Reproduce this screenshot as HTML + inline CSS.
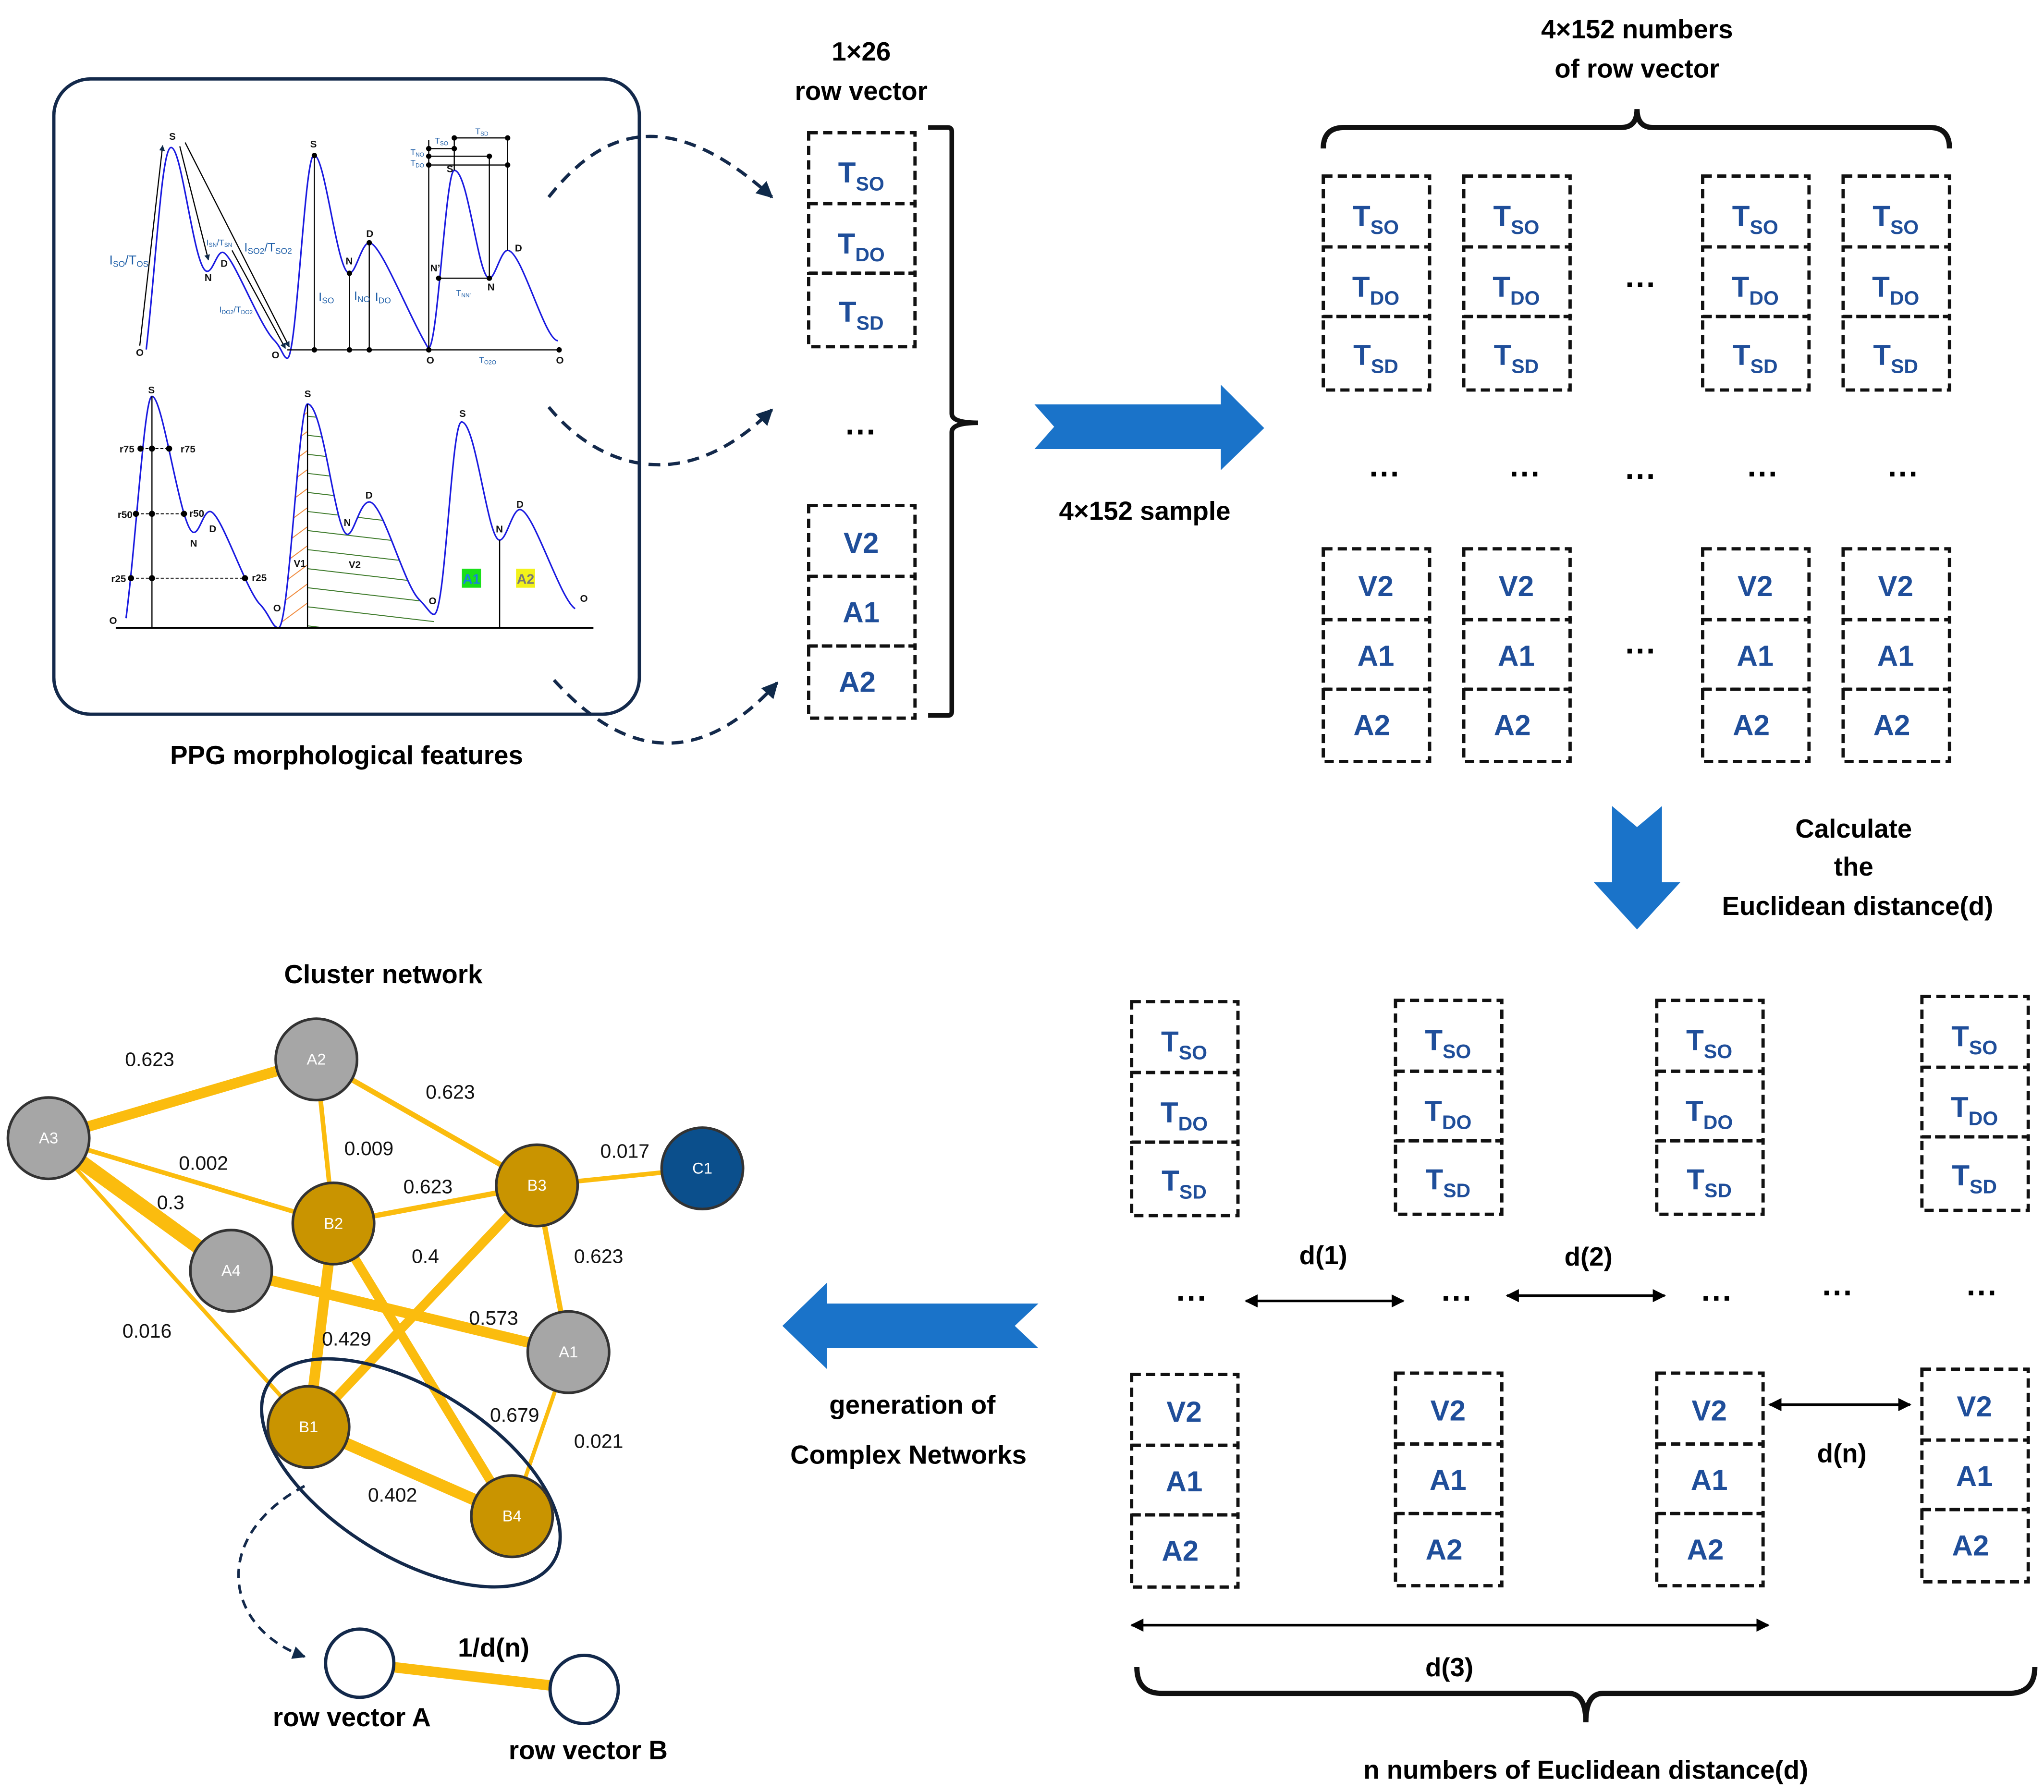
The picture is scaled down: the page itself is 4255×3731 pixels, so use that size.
<!DOCTYPE html>
<html><head><meta charset="utf-8"><style>
html,body{margin:0;padding:0;background:#fff}
svg{display:block}
text{font-family:"Liberation Sans",sans-serif}
.b{font-weight:bold}
.col rect{fill:none;stroke:#111;stroke-width:2.5;stroke-dasharray:7,4}
.col text{font-weight:bold;font-size:22px;fill:#1f4e9a;text-anchor:middle}
.e{stroke:#fbbc0e;stroke-linecap:round}
.el{font-size:15px;fill:#111}
.nl{font-size:12px;fill:#fff;text-anchor:middle}
.pl text{font-size:26px;font-weight:bold;fill:#111}
.pb text{fill:#1f5fa8}
</style></head><body>
<svg xmlns="http://www.w3.org/2000/svg" width="4255" height="3731" viewBox="0 0 1557 1365">
<defs>
<marker id="ah" viewBox="0 0 10 10" refX="9" refY="5" markerWidth="5" markerHeight="5" orient="auto"><path d="M0,0 L10,5 L0,10 z" fill="#0f2a4a"/></marker>
<marker id="ak" viewBox="0 0 10 10" refX="9" refY="5" markerWidth="5" markerHeight="5" orient="auto-start-reverse"><path d="M0,0 L10,5 L0,10 z" fill="#000"/></marker>
<g id="colg" class="col">
<rect x="0" y="0" width="81" height="54"/><rect x="0" y="54" width="81" height="53"/><rect x="0" y="107" width="81" height="56"/>
<rect x="0" y="284" width="81" height="54"/><rect x="0" y="338" width="81" height="53"/><rect x="0" y="391" width="81" height="55"/>
</g>
<clipPath id="hc"><path d="M592,1445 C620,1445 645,858 668,858 C710,858 740,1200 773,1200 C790,1200 805,1115 830,1115 C865,1115 920,1330 960,1370 C985,1395 990,1410 1000,1410 L1000,1445 Z"/></clipPath>
</defs>
<rect width="1557" height="1365" fill="#fff"/>

<!-- PPG box -->
<rect x="41" y="60" width="446" height="484" rx="28" fill="none" stroke="#13294b" stroke-width="2.5"/>
<g transform="translate(40.25,58.5) scale(0.2904)">
<path d="M245,715 C270,500 285,185 310,185 C340,185 370,510 405,510 C420,510 430,460 445,460 C470,460 540,650 580,690 C600,710 605,738 615,738 C640,738 660,205 685,205 C715,205 745,515 778,515 C795,515 810,435 830,435 C860,435 930,620 985,712 C1010,712 1030,245 1053,245 C1090,245 1115,528 1145,528 C1160,528 1175,455 1193,455 C1230,455 1290,692 1325,692" fill="none" stroke="#1a1ae0" stroke-width="4"/>
<g stroke="#000" stroke-width="3" fill="none">
<line x1="228" y1="705" x2="288" y2="180" marker-end="url(#ah)"/>
<line x1="333" y1="182" x2="408" y2="480" marker-end="url(#ah)"/>
<line x1="347" y1="172" x2="620" y2="708" marker-end="url(#ah)"/>
<line x1="470" y1="455" x2="610" y2="712" marker-end="url(#ah)"/>
<line x1="615" y1="716" x2="1328" y2="716"/>
<line x1="686" y1="206" x2="686" y2="716"/><line x1="778" y1="515" x2="778" y2="716"/><line x1="830" y1="435" x2="830" y2="716"/>
<line x1="986" y1="165" x2="986" y2="716"/>
<line x1="986" y1="188" x2="1053" y2="188"/><line x1="1053" y1="160" x2="1193" y2="160"/>
<line x1="986" y1="208" x2="1145" y2="208"/><line x1="986" y1="231" x2="1193" y2="231"/>
<line x1="1053" y1="160" x2="1053" y2="245"/><line x1="1145" y1="208" x2="1145" y2="528"/><line x1="1193" y1="160" x2="1193" y2="455"/>
<line x1="1012" y1="528" x2="1145" y2="528"/>
</g>
<g fill="#000">
<circle cx="686" cy="206" r="7"/><circle cx="686" cy="716" r="7"/><circle cx="778" cy="515" r="7"/><circle cx="778" cy="716" r="7"/><circle cx="830" cy="435" r="7"/><circle cx="830" cy="716" r="7"/><circle cx="986" cy="716" r="7"/><circle cx="1328" cy="716" r="7"/>
<circle cx="986" cy="188" r="7"/><circle cx="1053" cy="188" r="7"/><circle cx="1053" cy="160" r="7"/><circle cx="1193" cy="160" r="7"/><circle cx="986" cy="208" r="7"/><circle cx="1145" cy="208" r="7"/><circle cx="986" cy="231" r="7"/><circle cx="1193" cy="231" r="7"/><circle cx="1012" cy="528" r="7"/><circle cx="1145" cy="528" r="7"/>
</g>
<g class="pl">
<text x="305" y="165">S</text><text x="398" y="535">N</text><text x="440" y="498">D</text><text x="218" y="732">O</text><text x="574" y="738">O</text>
<text x="675" y="185">S</text><text x="768" y="492">N</text><text x="822" y="420">D</text><text x="980" y="752">O</text><text x="1320" y="752">O</text>
<text x="1033" y="250">S</text><text x="990" y="510">N’</text><text x="1140" y="560">N</text><text x="1212" y="458">D</text>
</g>
<g class="pb">
<text x="148" y="492" font-size="34">I<tspan font-size="22" dy="6">SO</tspan><tspan dy="-6">/T</tspan><tspan font-size="22" dy="6">OS</tspan></text>
<text x="403" y="442" font-size="22">I<tspan font-size="15" dy="4">SN</tspan><tspan dy="-4">/T</tspan><tspan font-size="15" dy="4">SN</tspan></text>
<text x="502" y="458" font-size="32">I<tspan font-size="22" dy="6">SO2</tspan><tspan dy="-6">/T</tspan><tspan font-size="22" dy="6">SO2</tspan></text>
<text x="437" y="618" font-size="22">I<tspan font-size="15" dy="4">DO2</tspan><tspan dy="-4">/T</tspan><tspan font-size="15" dy="4">DO2</tspan></text>
<text x="697" y="588" font-size="32">I<tspan font-size="22" dy="6">SO</tspan></text>
<text x="790" y="585" font-size="32">I<tspan font-size="22" dy="6">NO</tspan></text>
<text x="845" y="588" font-size="32">I<tspan font-size="22" dy="6">DO</tspan></text>
<text x="1118" y="750" font-size="22">T<tspan font-size="15" dy="4">O2O</tspan></text>
<text x="1058" y="574" font-size="22">T<tspan font-size="15" dy="4">NN’</tspan></text>
<text x="1002" y="175" font-size="22">T<tspan font-size="15" dy="4">SO</tspan></text>
<text x="1108" y="150" font-size="22">T<tspan font-size="15" dy="4">SD</tspan></text>
<text x="938" y="205" font-size="22">T<tspan font-size="15" dy="4">NO</tspan></text>
<text x="938" y="233" font-size="22">T<tspan font-size="15" dy="4">DO</tspan></text>
</g>
<!-- bottom plot -->
<g clip-path="url(#hc)" stroke-width="2.5">
<g stroke="#f08a3c"><path d="M560,1460 L668,1380 M560,1410 L668,1330 M560,1360 L668,1280 M560,1310 L668,1230 M560,1260 L668,1180 M560,1210 L668,1130 M560,1160 L668,1080 M560,1110 L668,1030 M560,1060 L668,980 M560,1010 L668,930 M560,960 L668,880"/></g>
<g stroke="#3d7a2a"><path d="M668,1440 L1010,1480 M668,1390 L1010,1430 M668,1340 L1010,1380 M668,1290 L1010,1330 M668,1240 L1010,1280 M668,1190 L1010,1230 M668,1140 L1010,1180 M668,1090 L1010,1130 M668,1040 L1010,1080 M668,990 L1010,1030 M668,940 L1010,980 M668,890 L1010,930 M668,840 L1010,880"/></g>
</g>
<path d="M192,1420 C220,1200 240,838 260,838 C290,838 335,1195 370,1195 C385,1195 395,1140 412,1140 C440,1140 500,1330 540,1380 C570,1410 575,1445 592,1445 C620,1445 645,858 668,858 C710,858 740,1200 773,1200 C790,1200 805,1115 830,1115 C865,1115 920,1330 960,1370 C985,1395 990,1410 1000,1410 C1030,1410 1045,905 1072,905 C1110,905 1140,1215 1172,1215 C1190,1215 1205,1135 1225,1135 C1260,1135 1330,1370 1370,1395" fill="none" stroke="#1a1ae0" stroke-width="4"/>
<g stroke="#000" fill="none">
<line x1="165" y1="1445" x2="1418" y2="1445" stroke-width="5"/>
<line x1="260" y1="838" x2="260" y2="1445" stroke-width="3"/>
<line x1="668" y1="858" x2="668" y2="1445" stroke-width="3"/>
<line x1="1172" y1="1215" x2="1172" y2="1445" stroke-width="3"/>
<g stroke-width="2.5" stroke-dasharray="8,5"><line x1="230" y1="975" x2="305" y2="975"/><line x1="218" y1="1146" x2="344" y2="1146"/><line x1="205" y1="1315" x2="504" y2="1315"/></g>
</g>
<g fill="#000"><circle cx="230" cy="975" r="8"/><circle cx="260" cy="975" r="8"/><circle cx="305" cy="975" r="8"/><circle cx="218" cy="1146" r="8"/><circle cx="260" cy="1146" r="8"/><circle cx="344" cy="1146" r="8"/><circle cx="205" cy="1315" r="8"/><circle cx="260" cy="1315" r="8"/><circle cx="504" cy="1315" r="8"/></g>
<g class="pl">
<text x="250" y="830">S</text><text x="660" y="840">S</text><text x="1066" y="892">S</text>
<text x="360" y="1232">N</text><text x="410" y="1194">D</text><text x="763" y="1178">N</text><text x="820" y="1106">D</text><text x="1162" y="1195">N</text><text x="1216" y="1130">D</text>
<text x="148" y="1435">O</text><text x="578" y="1402">O</text><text x="986" y="1383">O</text><text x="1383" y="1377">O</text>
<text x="175" y="985" font-size="20">r75</text><text x="335" y="985" font-size="20">r75</text>
<text x="170" y="1157" font-size="20">r50</text><text x="358" y="1154" font-size="20">r50</text>
<text x="153" y="1325" font-size="20">r25</text><text x="522" y="1323" font-size="20">r25</text>
<text x="632" y="1285">V1</text><text x="776" y="1288">V2</text>
</g>
<rect x="1073" y="1290" width="50" height="50" fill="#19e019"/><text x="1098" y="1330" text-anchor="middle" font-size="36" font-weight="bold" fill="#1a7fe0">A1</text>
<rect x="1215" y="1290" width="50" height="50" fill="#f2f21a"/><text x="1240" y="1330" text-anchor="middle" font-size="36" font-weight="bold" fill="#777">A2</text>
</g>
<text x="264" y="582" text-anchor="middle" class="b" font-size="20">PPG morphological features</text>

<!-- dashed arrows -->
<g fill="none" stroke="#13294b" stroke-width="2.5" stroke-dasharray="9,6">
<path d="M418,150 C450,110 500,70 588,150" marker-end="url(#ah)"/>
<path d="M418,310 C455,355 520,380 588,312" marker-end="url(#ah)"/>
<path d="M422,518 C460,560 520,600 592,520" marker-end="url(#ah)"/>
</g>

<!-- left column -->
<text x="656" y="46" text-anchor="middle" class="b" font-size="20">1×26</text>
<text x="656" y="76" text-anchor="middle" class="b" font-size="20">row vector</text>
<g transform="translate(616,101)">
<use href="#colg"/>
<g class="col"><text x="40" y="38">T<tspan font-size="15" dy="6">SO</tspan></text><text x="40" y="92">T<tspan font-size="15" dy="6">DO</tspan></text><text x="40" y="144">T<tspan font-size="15" dy="6">SD</tspan></text><text x="40" y="320">V2</text><text x="40" y="373">A1</text><text x="37" y="426">A2</text></g>
</g>
<text x="656" y="337" text-anchor="middle" class="b" font-size="24">···</text>
<path d="M707,97 L722,97 Q725,97 725,100 L725,315 Q725,322 745,322 Q725,322 725,329 L725,542 Q725,545 722,545 L707,545" fill="none" stroke="#111" stroke-width="3.5"/>

<!-- big right arrow -->
<polygon points="788,308 930,308 930,293 963,326 930,358 930,342 788,342 803,325" fill="#1a73c9"/>
<text x="872" y="396" text-anchor="middle" class="b" font-size="20">4×152 sample</text>

<!-- top right -->
<text x="1247" y="29" text-anchor="middle" class="b" font-size="20">4×152 numbers</text>
<text x="1247" y="59" text-anchor="middle" class="b" font-size="20">of row vector</text>
<path d="M1008,113 Q1008,97 1024,97 L1235,97 Q1247,97 1247,83 Q1247,97 1259,97 L1470,97 Q1485,97 1485,113" fill="none" stroke="#111" stroke-width="4"/>
<g transform="translate(1008,134)"><use href="#colg"/><g class="col"><text x="40" y="38">T<tspan font-size="15" dy="6">SO</tspan></text><text x="40" y="92">T<tspan font-size="15" dy="6">DO</tspan></text><text x="40" y="144">T<tspan font-size="15" dy="6">SD</tspan></text><text x="40" y="320">V2</text><text x="40" y="373">A1</text><text x="37" y="426">A2</text></g></g>
<g transform="translate(1115,134)"><use href="#colg"/><g class="col"><text x="40" y="38">T<tspan font-size="15" dy="6">SO</tspan></text><text x="40" y="92">T<tspan font-size="15" dy="6">DO</tspan></text><text x="40" y="144">T<tspan font-size="15" dy="6">SD</tspan></text><text x="40" y="320">V2</text><text x="40" y="373">A1</text><text x="37" y="426">A2</text></g></g>
<g transform="translate(1297,134)"><use href="#colg"/><g class="col"><text x="40" y="38">T<tspan font-size="15" dy="6">SO</tspan></text><text x="40" y="92">T<tspan font-size="15" dy="6">DO</tspan></text><text x="40" y="144">T<tspan font-size="15" dy="6">SD</tspan></text><text x="40" y="320">V2</text><text x="40" y="373">A1</text><text x="37" y="426">A2</text></g></g>
<g transform="translate(1404,134)"><use href="#colg"/><g class="col"><text x="40" y="38">T<tspan font-size="15" dy="6">SO</tspan></text><text x="40" y="92">T<tspan font-size="15" dy="6">DO</tspan></text><text x="40" y="144">T<tspan font-size="15" dy="6">SD</tspan></text><text x="40" y="320">V2</text><text x="40" y="373">A1</text><text x="37" y="426">A2</text></g></g>
<g class="b" font-size="24" text-anchor="middle">
<text x="1250" y="225">···</text><text x="1250" y="504">···</text>
<text x="1055" y="369">···</text><text x="1162" y="369">···</text><text x="1250" y="371">···</text><text x="1343" y="369">···</text><text x="1450" y="369">···</text>
</g>

<!-- down arrow -->
<polygon points="1228,614 1247,630 1266,614 1266,672 1280,672 1247,708 1214,672 1228,672" fill="#1a73c9"/>
<g class="b" font-size="20" text-anchor="middle"><text x="1412" y="638">Calculate</text><text x="1412" y="667">the</text><text x="1415" y="697">Euclidean distance(d)</text></g>

<!-- bottom right -->
<g transform="translate(862,763)"><use href="#colg"/><g class="col"><text x="40" y="38">T<tspan font-size="15" dy="6">SO</tspan></text><text x="40" y="92">T<tspan font-size="15" dy="6">DO</tspan></text><text x="40" y="144">T<tspan font-size="15" dy="6">SD</tspan></text><text x="40" y="320">V2</text><text x="40" y="373">A1</text><text x="37" y="426">A2</text></g></g>
<g transform="translate(1063,762)"><use href="#colg"/><g class="col"><text x="40" y="38">T<tspan font-size="15" dy="6">SO</tspan></text><text x="40" y="92">T<tspan font-size="15" dy="6">DO</tspan></text><text x="40" y="144">T<tspan font-size="15" dy="6">SD</tspan></text><text x="40" y="320">V2</text><text x="40" y="373">A1</text><text x="37" y="426">A2</text></g></g>
<g transform="translate(1262,762)"><use href="#colg"/><g class="col"><text x="40" y="38">T<tspan font-size="15" dy="6">SO</tspan></text><text x="40" y="92">T<tspan font-size="15" dy="6">DO</tspan></text><text x="40" y="144">T<tspan font-size="15" dy="6">SD</tspan></text><text x="40" y="320">V2</text><text x="40" y="373">A1</text><text x="37" y="426">A2</text></g></g>
<g transform="translate(1464,759)"><use href="#colg"/><g class="col"><text x="40" y="38">T<tspan font-size="15" dy="6">SO</tspan></text><text x="40" y="92">T<tspan font-size="15" dy="6">DO</tspan></text><text x="40" y="144">T<tspan font-size="15" dy="6">SD</tspan></text><text x="40" y="320">V2</text><text x="40" y="373">A1</text><text x="37" y="426">A2</text></g></g>
<g class="b" font-size="24" text-anchor="middle">
<text x="908" y="997">···</text><text x="1110" y="997">···</text><text x="1308" y="997">···</text><text x="1400" y="993">···</text><text x="1510" y="993">···</text>
</g>
<g stroke="#000" stroke-width="2" marker-start="url(#ak)" marker-end="url(#ak)">
<line x1="949" y1="991" x2="1069" y2="991"/>
<line x1="1148" y1="987" x2="1268" y2="987"/>
<line x1="1348" y1="1070" x2="1455" y2="1070"/>
<line x1="862" y1="1238" x2="1347" y2="1238"/>
</g>
<g class="b" font-size="20" text-anchor="middle">
<text x="1008" y="963">d(1)</text><text x="1210" y="964">d(2)</text><text x="1403" y="1114">d(n)</text><text x="1104" y="1277">d(3)</text>
<text x="1208" y="1355">n numbers of Euclidean distance(d)</text>
</g>
<path d="M866,1270 Q866,1290 885,1290 L1195,1290 Q1208,1290 1208,1312 Q1208,1290 1221,1290 L1530,1290 Q1550,1290 1550,1270" fill="none" stroke="#111" stroke-width="4"/>

<!-- left arrow -->
<polygon points="596,1010 630,977 630,993 791,993 773,1010 791,1027 630,1027 630,1043" fill="#1a73c9"/>
<g class="b" font-size="20" text-anchor="middle"><text x="695" y="1077">generation of</text><text x="692" y="1115">Complex Networks</text></g>

<!-- cluster network -->
<text x="292" y="749" text-anchor="middle" class="b" font-size="20">Cluster network</text>
<g class="e">
<line x1="37" y1="867" x2="241" y2="807" stroke-width="8"/>
<line x1="241" y1="807" x2="409" y2="903" stroke-width="4"/>
<line x1="241" y1="807" x2="254" y2="932" stroke-width="3.5"/>
<line x1="37" y1="867" x2="254" y2="932" stroke-width="3.5"/>
<line x1="37" y1="867" x2="176" y2="968" stroke-width="11"/>
<line x1="37" y1="867" x2="235" y2="1087" stroke-width="3"/>
<line x1="176" y1="968" x2="433" y2="1030" stroke-width="8"/>
<line x1="409" y1="903" x2="535" y2="890" stroke-width="3.5"/>
<line x1="409" y1="903" x2="433" y2="1030" stroke-width="4"/>
<line x1="254" y1="932" x2="409" y2="903" stroke-width="4"/>
<line x1="254" y1="932" x2="235" y2="1087" stroke-width="8"/>
<line x1="254" y1="932" x2="390" y2="1155" stroke-width="7"/>
<line x1="409" y1="903" x2="235" y2="1087" stroke-width="7"/>
<line x1="235" y1="1087" x2="390" y2="1155" stroke-width="9"/>
<line x1="433" y1="1030" x2="390" y2="1155" stroke-width="3"/>
</g>
<ellipse cx="313" cy="1122" rx="128" ry="64" transform="rotate(32 313 1122)" fill="none" stroke="#13294b" stroke-width="2.5"/>
<g stroke="#333" stroke-width="2">
<circle cx="241" cy="807" r="31" fill="#a6a6a6"/><circle cx="37" cy="867" r="31" fill="#a6a6a6"/><circle cx="176" cy="968" r="31" fill="#a6a6a6"/><circle cx="433" cy="1030" r="31" fill="#a6a6a6"/>
<circle cx="409" cy="903" r="31" fill="#c99400"/><circle cx="254" cy="932" r="31" fill="#c99400"/><circle cx="235" cy="1087" r="31" fill="#c99400"/><circle cx="390" cy="1155" r="31" fill="#c99400"/>
<circle cx="535" cy="890" r="31" fill="#0b4f8c"/>
</g>
<g class="nl"><text x="241" y="811">A2</text><text x="37" y="871">A3</text><text x="176" y="972">A4</text><text x="433" y="1034">A1</text><text x="409" y="907">B3</text><text x="254" y="936">B2</text><text x="235" y="1091">B1</text><text x="390" y="1159">B4</text><text x="535" y="894">C1</text></g>
<g class="el" text-anchor="middle">
<text x="114" y="812">0.623</text><text x="343" y="837">0.623</text><text x="281" y="880">0.009</text><text x="155" y="891">0.002</text><text x="476" y="882">0.017</text>
<text x="130" y="921">0.3</text><text x="326" y="909">0.623</text><text x="324" y="962">0.4</text><text x="456" y="962">0.623</text><text x="376" y="1009">0.573</text>
<text x="112" y="1019">0.016</text><text x="264" y="1025">0.429</text><text x="392" y="1083">0.679</text><text x="456" y="1103">0.021</text><text x="299" y="1144">0.402</text>
</g>
<path d="M232,1132 C160,1170 170,1240 232,1262" fill="none" stroke="#13294b" stroke-width="2" stroke-dasharray="7,5" marker-end="url(#ah)"/>
<line x1="274" y1="1267" x2="445" y2="1287" stroke="#fbbc0e" stroke-width="8"/>
<circle cx="274" cy="1267" r="26" fill="#fff" stroke="#13294b" stroke-width="2.5"/>
<circle cx="445" cy="1287" r="26" fill="#fff" stroke="#13294b" stroke-width="2.5"/>
<g class="b" font-size="20" text-anchor="middle"><text x="376" y="1262">1/d(n)</text><text x="268" y="1315">row vector A</text><text x="448" y="1340">row vector B</text></g>
</svg>
</body></html>
